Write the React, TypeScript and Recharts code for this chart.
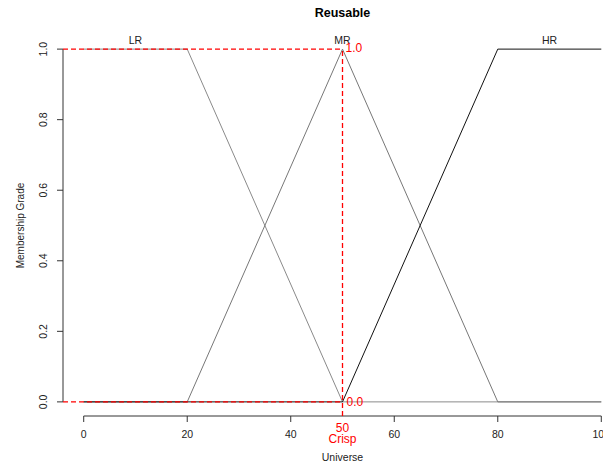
import React from 'react';
import { LineChart, Line, XAxis, YAxis, ReferenceLine, ReferenceDot, Label } from 'recharts';

const xValues = [0, 20, 50, 80, 100];
const lrValues = [1, 1, 0, 0, 0];
const mrValues = [0, 0, 1, 0, 0];
const hrValues = [0, 0, 0, 1, 1];
const xTicks = [0, 20, 40, 60, 80, 100];
const yTicks = [0, 0.2, 0.4, 0.6, 0.8, 1.0];
const setNames = ['LR', 'MR', 'HR'];
const setLabelX = [10, 50, 90];
const crispValue = 50;
const crispGrade = 1.0;
const title = 'Reusable';
const xTitle = 'Universe';
const yTitle = 'Membership Grade';

const data = xValues.map((x, i) => ({ x, lr: lrValues[i], mr: mrValues[i], hr: hrValues[i] }));

const FONT = '"Liberation Sans", Arial, Helvetica, sans-serif';
const AXIS = '#333';
const RED = '#ff0000';

const XTick = (props: any) => {
  const { x, y, payload } = props;
  return (
    <text x={x} y={y + 16} textAnchor="middle" fontSize={10.5} fontFamily={FONT} fill="#222">
      {payload.value}
    </text>
  );
};

const YTick = (props: any) => {
  const { x, y, payload } = props;
  const bx = x - 9.5;
  return (
    <text
      x={bx}
      y={y}
      transform={`rotate(-90, ${bx}, ${y})`}
      textAnchor="middle"
      fontSize={10.5}
      fontFamily={FONT}
      fill="#222"
    >
      {Number(payload.value).toFixed(1)}
    </text>
  );
};

export default function App() {
  return (
    <div style={{ position: 'absolute', left: 0, top: 0, width: 603, height: 463, overflow: 'hidden', background: '#fff' }}>
      <LineChart width={650} height={463} data={data} margin={{ top: 35, right: 28, bottom: 0, left: 0 }}>
        <XAxis
          dataKey="x"
          type="number"
          domain={[-4, 104]}
          ticks={xTicks}
          interval={0}
          axisLine={false}
          tickLine={{ stroke: AXIS }}
          tickSize={6}
          tickMargin={0}
          height={47}
          tick={<XTick />}
        >
          <Label
            content={(p: any) => {
              const vb = p.viewBox;
              return (
                <text x={vb.x + vb.width / 2} y={461} textAnchor="middle" fontSize={10.5} fontFamily={FONT} fill="#222">
                  {xTitle}
                </text>
              );
            }}
          />
        </XAxis>
        <YAxis
          type="number"
          domain={[-0.04, 1.04]}
          ticks={yTicks}
          interval={0}
          axisLine={false}
          tickLine={{ stroke: AXIS }}
          tickSize={6}
          tickMargin={0}
          width={63}
          tick={<YTick />}
        >
          <Label
            content={(p: any) => {
              const vb = p.viewBox;
              const cy = vb.y + vb.height / 2;
              return (
                <text x={24} y={cy} transform={`rotate(-90, 24, ${cy})`} textAnchor="middle" fontSize={10} fontFamily={FONT} fill="#222">
                  {yTitle}
                </text>
              );
            }}
          />
        </YAxis>

        <ReferenceLine segment={[{ x: -4, y: 0 }, { x: -4, y: 1 }]} stroke={AXIS} strokeWidth={1} ifOverflow="visible" />
        <ReferenceLine segment={[{ x: 0, y: -0.04 }, { x: 100, y: -0.04 }]} stroke={AXIS} strokeWidth={1} ifOverflow="visible" />

        <Line type="linear" dataKey="lr" stroke="#8a8a8a" strokeWidth={1} dot={false} isAnimationActive={false} />
        <Line type="linear" dataKey="mr" stroke="#777" strokeWidth={1} dot={false} isAnimationActive={false} />
        <Line type="linear" dataKey="hr" stroke="#111" strokeWidth={1} dot={false} isAnimationActive={false} />

        <ReferenceLine segment={[{ x: -4, y: crispGrade }, { x: crispValue, y: crispGrade }]} stroke={RED} strokeWidth={1.3} strokeDasharray="5 3" ifOverflow="visible" />
        <ReferenceLine segment={[{ x: -4, y: 0 }, { x: crispValue, y: 0 }]} stroke={RED} strokeWidth={1.3} strokeDasharray="5 3" ifOverflow="visible" />
        <ReferenceLine segment={[{ x: crispValue, y: -0.04 }, { x: crispValue, y: crispGrade }]} stroke={RED} strokeWidth={1.3} strokeDasharray="5 3" ifOverflow="visible" />

        {setNames.map((name, i) => (
          <ReferenceDot
            key={name}
            x={setLabelX[i]}
            y={1}
            r={0}
            stroke="none"
            fill="none"
            ifOverflow="visible"
            label={{
              content: (p: any) => {
                const vb = p.viewBox;
                return (
                  <text x={vb.x} y={vb.y - 5} textAnchor="middle" fontSize={10.5} fontFamily={FONT} fill="#222">
                    {name}
                  </text>
                );
              },
            }}
          />
        ))}

        <ReferenceDot
          x={crispValue}
          y={1.04}
          r={0}
          stroke="none"
          fill="none"
          ifOverflow="visible"
          label={{
            content: (p: any) => {
              const vb = p.viewBox;
              return (
                <text x={vb.x} y={vb.y - 18} textAnchor="middle" fontSize={12.5} fontWeight="bold" fontFamily={FONT} fill="#000">
                  {title}
                </text>
              );
            },
          }}
        />

        <ReferenceDot
          x={crispValue}
          y={crispGrade}
          r={0}
          stroke="none"
          fill="none"
          ifOverflow="visible"
          label={{
            content: (p: any) => {
              const vb = p.viewBox;
              return (
                <text x={vb.x + 3} y={vb.y + 3} textAnchor="start" fontSize={12} fontFamily={FONT} fill={RED}>
                  {crispGrade.toFixed(1)}
                </text>
              );
            },
          }}
        />

        <ReferenceDot
          x={crispValue}
          y={0}
          r={0}
          stroke="none"
          fill="none"
          ifOverflow="visible"
          label={{
            content: (p: any) => {
              const vb = p.viewBox;
              return (
                <g>
                  <text x={vb.x + 4} y={vb.y + 4} textAnchor="start" fontSize={12} fontFamily={FONT} fill={RED}>
                    {(0).toFixed(1)}
                  </text>
                  <text x={vb.x} y={vb.y + 30} textAnchor="middle" fontSize={12} fontFamily={FONT} fill={RED}>
                    {String(crispValue)}
                  </text>
                  <text x={vb.x} y={vb.y + 41.5} textAnchor="middle" fontSize={12} fontFamily={FONT} fill={RED}>
                    Crisp
                  </text>
                </g>
              );
            },
          }}
        />
      </LineChart>
    </div>
  );
}
